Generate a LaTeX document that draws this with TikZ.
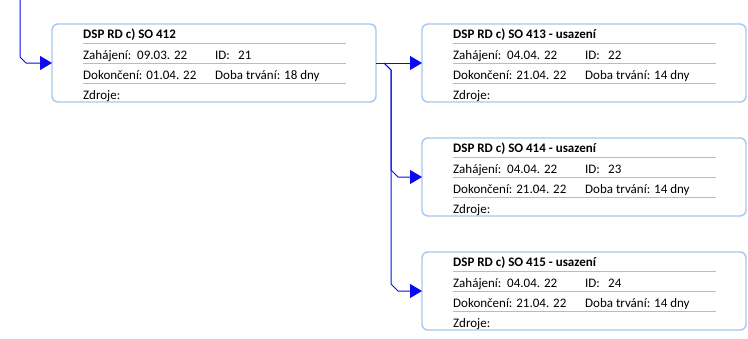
\documentclass[tikz,border=0pt]{standalone}
\usepackage{fontspec}
\setmainfont{Carlito}
\usetikzlibrary{arrows.meta,calc}
\definecolor{boxline}{HTML}{A6C8EE}
\definecolor{sepline}{HTML}{9CC2E8}
\definecolor{connblue}{HTML}{0A0AF5}
\tikzset{
  taskbox/.style={draw=boxline, line width=1.4pt, rounded corners=6pt, minimum width=324pt, minimum height=78pt, anchor=north west, inner sep=0pt, outer sep=0pt},
  sepln/.style={draw=sepline, line width=1pt},
  txt/.style={anchor=base west, inner sep=0pt, font=\fontsize{13}{15}\selectfont},
  ttl/.style={anchor=base west, inner sep=0pt, font=\fontsize{13}{15}\selectfont\bfseries},
  connector/.style={draw=connblue, line width=1pt, -{Triangle[length=12pt,width=14pt]}},
}
\newcommand\TaskCard[8]{%
  \node[taskbox] (#1) at (#2,#3) {};
  \node[ttl] (#1t) at ($(#1.north west)+(31,14)$) {#4};
  \draw[sepln] ($(#1.north west)+(31,19)$) -- ($(#1.north east)+(-30,19)$);
  \draw[sepln] ($(#1.north west)+(31,39)$) -- ($(#1.north east)+(-30,39)$);
  \draw[sepln] ($(#1.north west)+(31,59)$) -- ($(#1.north east)+(-30,59)$);
  \node[txt] (#1a) at ($(#1.north west)+(31,35)$) {Zahájení:\ \ #5};
  \node[txt] (#1b) at ($(#1.north west)+(163,35)$) {ID:};
  \node[txt] (#1c) at ($(#1.north west)+(186,35)$) {#6};
  \node[txt] (#1d) at ($(#1.north west)+(31,55)$) {Dokončení: #7};
  \node[txt] (#1e) at ($(#1.north west)+(163,55)$) {Doba trvání: #8};
  \node[txt] (#1f) at ($(#1.north west)+(31,75)$) {Zdroje:};
}
\begin{document}
\begin{tikzpicture}[x=1pt,y=-1pt]
\useasboundingbox (0,0) rectangle (748,338);
\TaskCard{b1}{52}{24}{DSP RD c) SO 412}{09.03. 22}{21}{01.04. 22}{18 dny}
\TaskCard{b2}{422}{24}{DSP RD c) SO 413 - usazení}{04.04. 22}{22}{21.04. 22}{14 dny}
\TaskCard{b3}{422}{138}{DSP RD c) SO 414 - usazení}{04.04. 22}{23}{21.04. 22}{14 dny}
\TaskCard{b4}{422}{252}{DSP RD c) SO 415 - usazení}{04.04. 22}{24}{21.04. 22}{14 dny}
\coordinate (in) at (20,0);
\draw[connector] (in) -- ($(in |- b1.west)+(0,-6)$) -- ($(in |- b1.west)+(6,0)$) -- (b1.west);
\draw[connector] (b1.east) -- (b2.west);
\coordinate (j) at ($(b1.east)+(8,0)$);
\draw[connector] (j) -- ++(7,7) -- ($(j |- b3.west)+(7,-7)$) -- ($(j |- b3.west)+(14,0)$) -- (b3.west);
\draw[connector] (j) -- ++(7,7) -- ($(j |- b4.west)+(7,-7)$) -- ($(j |- b4.west)+(14,0)$) -- (b4.west);
\end{tikzpicture}
\end{document}
